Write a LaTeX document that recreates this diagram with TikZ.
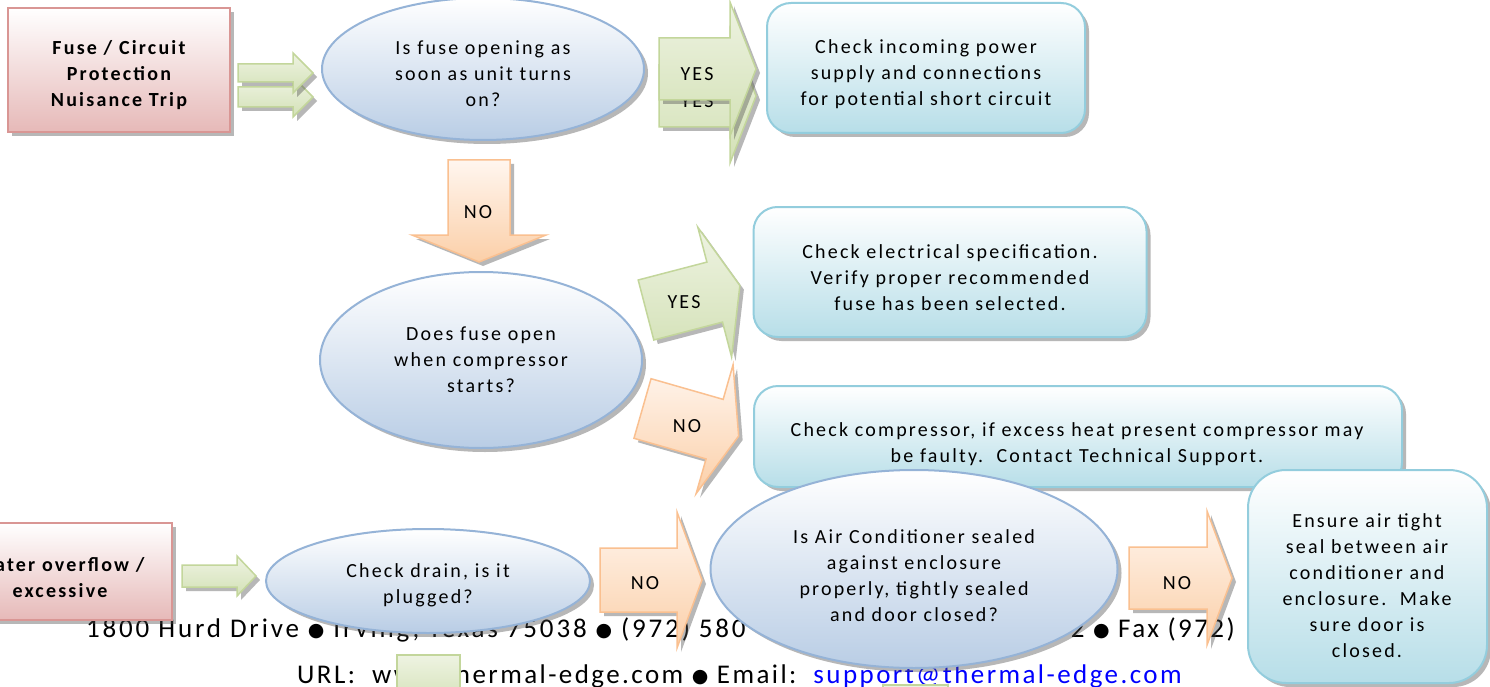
\documentclass[tikz,border=0pt]{standalone}
\usepackage{fontspec}
\setmainfont{Carlito}
\newfontfamily\lblfont[LetterSpace=11]{Carlito}
\newfontfamily\footfont[LetterSpace=9]{Carlito}
\newfontfamily\footfontw[LetterSpace=10.5]{Carlito}
\newfontfamily\symfont{DejaVu Sans}
\usetikzlibrary{shapes.geometric,shadows}

\definecolor{pinkbot}{HTML}{E6B9B8}
\definecolor{pinkline}{HTML}{D99694}
\definecolor{bluebot}{HTML}{B9CDE5}
\definecolor{blueline}{HTML}{95B3D7}
\definecolor{tealbot}{HTML}{B7DEE8}
\definecolor{tealline}{HTML}{93CDDD}
\definecolor{grtop}{HTML}{EEF3E2}
\definecolor{grbot}{HTML}{D3E1B6}
\definecolor{grline}{HTML}{C3D69B}
\definecolor{ortop}{HTML}{FFF6EF}
\definecolor{orbot}{HTML}{FBCFA8}
\definecolor{orline}{HTML}{FAC090}
\definecolor{mailblue}{HTML}{0000FF}

\tikzset{
  lbl/.style={font=\lblfont\fontsize{20}{26}\selectfont, align=center, text=black, inner sep=0pt},
  boldlbl/.style={lbl, font=\lblfont\bfseries\fontsize{20}{26}\selectfont},
  shad/.style={drop shadow={shadow xshift=4pt,shadow yshift=-4pt,opacity=0.4,fill=black!70}},
  startbox/.style={rectangle, draw=pinkline, line width=1.5pt, top color=white, bottom color=pinkbot, shad, inner sep=0pt},
  ellip/.style={ellipse, draw=blueline, line width=2pt, top color=white, bottom color=bluebot, shad, inner sep=0pt},
  resbox/.style={rectangle, rounded corners=24pt, draw=tealline, line width=2pt, top color=white, bottom color=tealbot, shad, inner sep=0pt},
  greenarr/.style={top color=grtop, bottom color=grbot, draw=grline, line width=1.5pt},
  orangearr/.style={top color=ortop, bottom color=orbot, draw=orline, line width=1.5pt},
  foot/.style={font=\footfont\fontsize{27}{32}\selectfont, inner sep=0pt},
  footw/.style={font=\footfontw\fontsize{27}{32}\selectfont, inner sep=0pt},
}

% #1 style, #2 x, #3 y, #4 angle, #5 body length, #6 total length, #7 body half height, #8 head half height
\newcommand\blkarrow[8]{%
  \begin{scope}[shift={(#2+4,#3+4)},rotate=#4]
    \fill[black!70,opacity=0.4] (0,-#7) -- (#5,-#7) -- (#5,-#8) -- (#6,0) -- (#5,#8) -- (#5,#7) -- (0,#7) -- cycle;
  \end{scope}
  \begin{scope}[shift={(#2,#3)},rotate=#4]
    \path[#1] (0,-#7) -- (#5,-#7) -- (#5,-#8) -- (#6,0) -- (#5,#8) -- (#5,#7) -- (0,#7) -- cycle;
  \end{scope}}
\newcommand\bul{\raisebox{0.5pt}{\symfont\fontsize{19}{19}\selectfont ●}}

\begin{document}
\begin{tikzpicture}[x=1pt,y=-1pt]
\useasboundingbox (0,0) rectangle (1490,687);
\fill[white] (0,0) rectangle (1490,687);

% footer
\node[footw, anchor=base west] (addr1) at (86,637) {1800 Hurd Drive \bul{} Irving, Texas 75038 \bul{} (972) 580};
\node[foot, anchor=base east] (addr2) at (1235,637) {2 \bul{} Fax (972)};
\node[foot, anchor=base west] (url) at (297,683) {URL:\ \ www.thermal-edge.com \bul{} Email:\ \ \textcolor{mailblue}{support@thermal-edge.com}};

% top row
\node[startbox, minimum width=222pt, minimum height=124pt] (fuse) at (119,70) {};
\node[boldlbl] (fuset) at (119,75) {Fuse / Circuit\\Protection\\Nuisance Trip};
\blkarrow{greenarr}{238}{97}{0}{55}{75}{10}{20}
\blkarrow{greenarr}{238}{73}{0}{55}{75}{9}{20}
\node[ellip, minimum width=322pt, minimum height=142pt] (q1) at (483,69) {};
\node[lbl] (q1t) at (483,74) {Is fuse opening as\\soon as unit turns\\on?};
\blkarrow{greenarr}{659}{96}{0}{71}{97}{31}{67}
\node[lbl] (yes1b) at (697,101) {YES};
\blkarrow{greenarr}{659}{69}{0}{71}{97}{31}{67}
\node[lbl] (yes1) at (697,74) {YES};
\node[resbox, minimum width=318pt, minimum height=130pt] (r1) at (926,68) {};
\node[lbl] (r1t) at (926,74) {Check incoming power\\supply and connections\\for potential short circuit};

% NO down
\blkarrow{orangearr}{479}{160}{-90}{75}{102}{31}{67}
\node[lbl] (no1) at (478,212) {NO};

\node[ellip, minimum width=322pt, minimum height=176pt] (q2) at (481,360) {};
\node[lbl] (q2t) at (481,360) {Does fuse open\\when compressor\\starts?};
\blkarrow{greenarr}{646}{310}{14.6}{71}{97}{31}{67}
\node[lbl] (yes2) at (684,302) {YES};
\node[resbox, minimum width=393pt, minimum height=130pt] (r2) at (950,272) {};
\node[lbl] (r2t) at (950,278) {Check electrical specification.\\Verify proper recommended\\fuse has been selected.};
\blkarrow{orangearr}{642.5}{408.5}{-16}{75}{100}{31}{67}
\node[lbl] (no2) at (687,426) {NO};
\node[resbox, minimum width=648pt, minimum height=101pt] (r3) at (1078,436.5) {};
\node[lbl] (r3t) at (1077,444.5) {Check compressor, if excess heat present compressor may\\be faulty.\ \ Contact Technical Support.};

% bottom row
\node[startbox, minimum width=228pt, minimum height=97pt] (water) at (58,571.5) {};
\node[boldlbl] (watert) at (60,577.5) {Water overflow /\\excessive};
\blkarrow{greenarr}{182}{576}{0}{55}{74}{11}{20}
\node[ellip, minimum width=324pt, minimum height=104pt] (q3) at (428,581) {};
\node[lbl] (q3t) at (428,585) {Check drain, is it\\plugged?};
\blkarrow{orangearr}{600}{580}{0}{77}{102}{32}{68}
\node[lbl] (no3) at (645,583) {NO};
\node[ellip, minimum width=407pt, minimum height=198pt] (q4) at (914,569) {};
\node[lbl] (q4t) at (914,576) {Is Air Conditioner sealed\\against enclosure\\properly, tightly sealed\\and door closed?};
\blkarrow{orangearr}{1129}{578}{0}{78}{103}{31}{67}
\node[lbl] (no4) at (1177,583) {NO};
\node[resbox, rounded corners=38pt, minimum width=239pt, minimum height=213pt] (r4) at (1367.5,576.5) {};
\node[lbl] (r4t) at (1367,586) {Ensure air tight\\seal between air\\conditioner and\\enclosure.\ \ Make\\sure door is\\closed.};

% partly visible shapes at the bottom edge
\path[greenarr] (397,655) rectangle (460,705);
\path[greenarr] (883,685) rectangle (948,705);
\end{tikzpicture}
\end{document}
